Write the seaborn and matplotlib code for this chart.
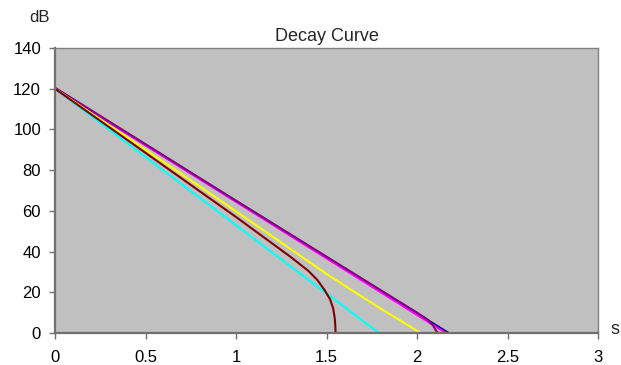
import matplotlib
matplotlib.use("Agg")
import matplotlib.pyplot as plt
import seaborn as sns

# --- data (time in s, level in dB) ---
navy_t = [0.0, 2.175]
navy_db = [120.0, 0.0]

magenta_t = [0.0, 2.16]
magenta_db = [120.0, 0.0]

purple_t = [0.0, 1.0, 1.9, 2.0, 2.06, 2.09, 2.105, 2.115]
purple_db = [120.5, 65.0, 15.5, 10.0, 6.5, 3.5, 1.2, 0.0]

yellow_t = [0.0, 0.4, 0.8, 1.2, 1.5, 1.79, 1.92, 2.02]
yellow_db = [120.0, 96.0, 72.0, 47.5, 29.0, 12.5, 5.5, 0.0]

cyan_t = [0.0, 1.79]
cyan_db = [120.0, 0.0]

maroon_t = [0.0, 0.5, 1.0, 1.3, 1.4, 1.45, 1.49, 1.52, 1.537, 1.546, 1.549, 1.55]
maroon_db = [120.0, 88.5, 57.0, 37.5, 30.5, 26.0, 21.0, 16.5, 12.0, 7.0, 3.0, 0.0]

x_ticks = [0, 0.5, 1, 1.5, 2, 2.5, 3]
x_labels = ["0", "0.5", "1", "1.5", "2", "2.5", "3"]
y_ticks = [0, 20, 40, 60, 80, 100, 120, 140]

series = [
    (navy_t, navy_db, "#000080"),
    (magenta_t, magenta_db, "#FF00FF"),
    (purple_t, purple_db, "#800080"),
    (yellow_t, yellow_db, "#FFFF00"),
    (cyan_t, cyan_db, "#00FFFF"),
    (maroon_t, maroon_db, "#800000"),
]

sns.set_theme(style="white")
plt.rcParams['font.family'] = ['Liberation Sans', 'DejaVu Sans']

fig = plt.figure(figsize=(6.21, 3.65), dpi=100)
ax = fig.add_axes([55 / 621, 1 - 333 / 365, 543 / 621, 285 / 365])
ax.set_facecolor("#C0C0C0")

for t, db, col in series:
    sns.lineplot(x=t, y=db, color=col, linewidth=1.5, sort=False,
                 estimator=None, ax=ax)

ax.set_xlim(0, 3)
ax.set_ylim(0, 140)
ax.set_xticks(x_ticks)
ax.set_xticklabels(x_labels)
ax.set_yticks(y_ticks)
ax.set_xlabel("")
ax.set_ylabel("")

for side in ["top", "right"]:
    ax.spines[side].set_color("#808080")
    ax.spines[side].set_linewidth(1.0)
for side in ["left", "bottom"]:
    ax.spines[side].set_color("#707070")
    ax.spines[side].set_linewidth(1.6)

ax.tick_params(axis="both", which="major", direction="out", length=4,
               width=1, color="#707070", labelsize=12, labelcolor="black")
ax.tick_params(axis="x", pad=8, bottom=True)
ax.tick_params(axis="y", pad=6, left=True)

ax.set_title("Decay Curve", fontsize=13, pad=5)
fig.text(40 / 621, 1 - 18 / 365, "dB", fontsize=12, ha="center", va="center")
fig.text(615 / 621, 1 - 330 / 365, "s", fontsize=13, ha="center", va="center")

fig.savefig("out.png", dpi=100)
